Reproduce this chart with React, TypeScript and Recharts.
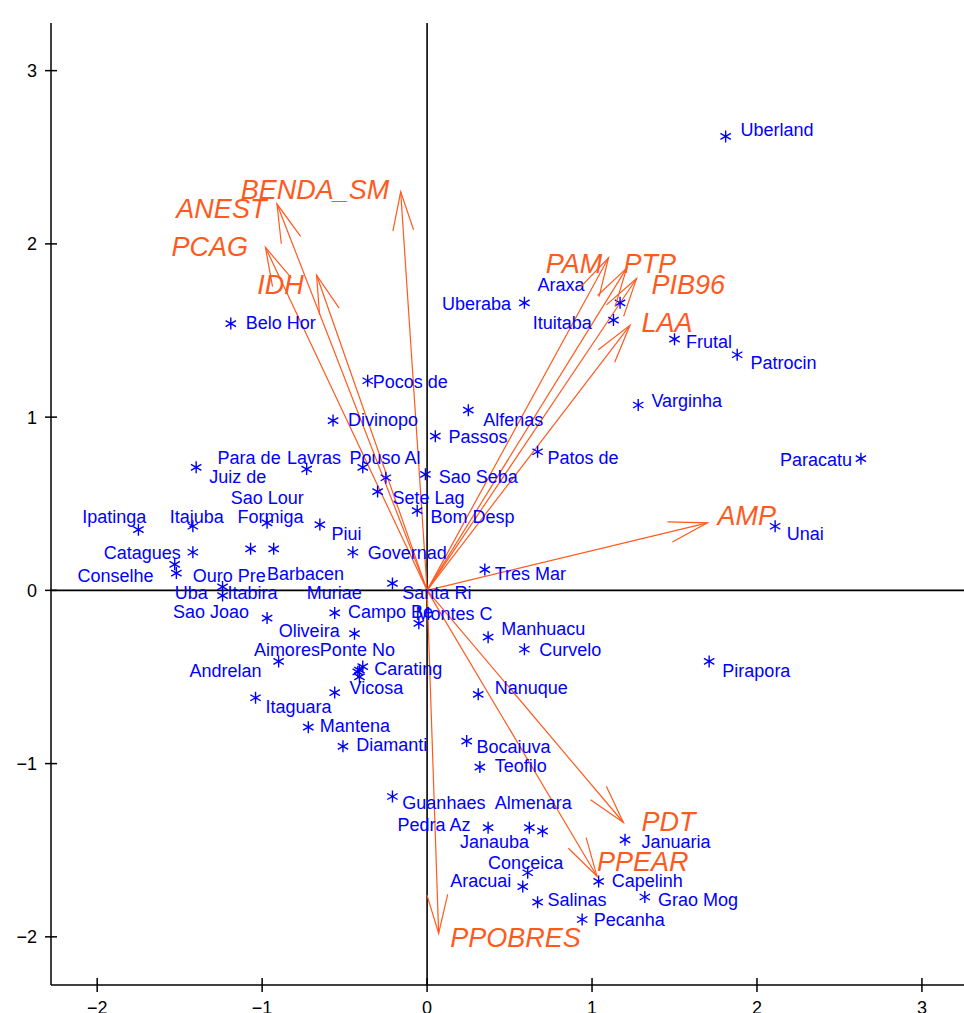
import React from 'react';
import { ComposedChart, XAxis, YAxis, Scatter, Line, ReferenceLine } from 'recharts';

const X_DOMAIN: [number, number] = [-2.28, 3.255];
const Y_DOMAIN: [number, number] = [-2.278, 3.275];
const xTicks = [-2, -1, 0, 1, 2, 3];
const yTicks = [-2, -1, 0, 1, 2, 3];

const cityNames = [
  'Uberland', 'Belo Hor', 'Uberaba', 'Araxa', 'Ituitaba', 'Frutal', 'Patrocin', 'Varginha', 'Paracatu', 'Unai',
  'Pirapora', 'Patos de', 'Alfenas', 'Passos', 'Sao Seba', 'Pocos de', 'Divinopo', 'Sete Lag', 'Bom Desp', 'Tres Mar',
  'Governad', 'Piui', 'Para de', 'Juiz de', 'Lavras', 'Pouso Al', 'Sao Lour', 'Ipatinga', 'Itajuba', 'Formiga',
  'Catagues', 'Conselhe', 'Ouro Pre', 'Barbacen', 'Uba', 'Itabira', 'Muriae', 'Santa Ri', 'Sao Joao', 'Campo Be',
  'Montes C', 'Oliveira', 'Aimores', 'Ponte No', 'Andrelan', 'Carating', 'Vicosa', 'Itaguara', 'Mantena', 'Diamanti',
  'Manhuacu', 'Curvelo', 'Nanuque', 'Bocaiuva', 'Teofilo', 'Guanhaes', 'Almenara', 'Pedra Az', 'Janauba', 'Januaria',
  'Conceica', 'Aracuai', 'Capelinh', 'Grao Mog', 'Salinas', 'Pecanha',
];
const cityX = [
  1.81, -1.19, 0.59, 1.17, 1.13, 1.50, 1.88, 1.28, 2.63, 2.11,
  1.71, 0.67, 0.25, 0.05, -0.01, -0.36, -0.57, -0.30, -0.06, 0.35,
  -0.45, -0.65, -0.25, -1.40, -0.73, -0.39, -1.07, -1.75, -1.42, -0.97,
  -1.42, -1.52, -0.93, -1.53, -1.24, -1.24, -0.42, -0.21, -0.97, -0.56,
  -0.05, -0.44, -0.90, -0.41, -0.41, -0.39, -0.56, -1.04, -0.72, -0.51,
  0.37, 0.59, 0.31, 0.24, 0.32, -0.21, 0.62, 0.37, 0.70, 1.20,
  0.61, 0.58, 1.04, 1.32, 0.67, 0.94,
];
const cityY = [
  2.62, 1.54, 1.66, 1.66, 1.56, 1.45, 1.36, 1.07, 0.76, 0.37,
  -0.41, 0.80, 1.04, 0.89, 0.67, 1.21, 0.98, 0.57, 0.46, 0.12,
  0.22, 0.38, 0.65, 0.71, 0.70, 0.71, 0.24, 0.35, 0.37, 0.39,
  0.22, 0.10, 0.24, 0.15, 0.02, -0.03, -0.47, 0.04, -0.16, -0.13,
  -0.19, -0.25, -0.41, -0.50, -0.46, -0.44, -0.59, -0.62, -0.79, -0.90,
  -0.27, -0.34, -0.60, -0.87, -1.02, -1.19, -1.37, -1.37, -1.39, -1.44,
  -1.63, -1.71, -1.68, -1.77, -1.80, -1.90,
];
const labelX = [
  1.90, -1.10, 0.09, 0.67, 0.64, 1.57, 1.96, 1.36, 2.14, 2.18,
  1.79, 0.73, 0.34, 0.13, 0.07, -0.33, -0.48, -0.21, 0.02, 0.41,
  -0.36, -0.58, -1.27, -1.32, -0.85, -0.47, -1.19, -2.09, -1.56, -1.15,
  -1.96, -2.12, -1.42, -0.97, -1.53, -1.21, -0.73, -0.15, -1.54, -0.48,
  -0.07, -0.90, -1.05, -0.65, -1.44, -0.32, -0.47, -0.98, -0.65, -0.43,
  0.45, 0.68, 0.41, 0.30, 0.41, -0.15, 0.41, -0.18, 0.20, 1.30,
  0.37, 0.14, 1.12, 1.40, 0.73, 1.01,
];
const labelY = [
  2.62, 1.51, 1.62, 1.73, 1.51, 1.40, 1.28, 1.06, 0.72, 0.29,
  -0.50, 0.73, 0.95, 0.85, 0.62, 1.17, 0.95, 0.50, 0.39, 0.06,
  0.18, 0.29, 0.73, 0.62, 0.73, 0.73, 0.50, 0.39, 0.39, 0.39,
  0.18, 0.05, 0.05, 0.06, -0.05, -0.05, -0.05, -0.05, -0.16, -0.16,
  -0.17, -0.27, -0.38, -0.38, -0.50, -0.49, -0.60, -0.71, -0.82, -0.93,
  -0.26, -0.38, -0.60, -0.94, -1.05, -1.26, -1.26, -1.39, -1.49, -1.49,
  -1.61, -1.71, -1.71, -1.82, -1.82, -1.94,
];

const varNames = ['BENDA_SM', 'ANEST', 'PCAG', 'IDH', 'PAM', 'PTP', 'PIB96', 'LAA', 'AMP', 'PDT', 'PPEAR', 'PPOBRES'];
const varX = [-0.16, -0.91, -0.98, -0.67, 1.10, 1.21, 1.27, 1.23, 1.70, 1.19, 1.03, 0.07];
const varY = [2.30, 2.23, 1.98, 1.82, 1.92, 1.86, 1.80, 1.53, 0.39, -1.34, -1.65, -1.98];
const varLabelX = [-1.13, -1.52, -1.55, -1.03, 0.72, 1.19, 1.36, 1.30, 1.76, 1.30, 1.03, 0.14];
const varLabelY = [2.26, 2.15, 1.93, 1.71, 1.83, 1.83, 1.71, 1.49, 0.38, -1.39, -1.62, -2.06];

const BLUE = '#0000ff';
const ORANGE = '#ff5a1e';
const FONT = "'Liberation Sans', Arial, Helvetica, sans-serif";

const cityPoints = cityNames.map((n, i) => ({ name: n, x: cityX[i], y: cityY[i] }));
const cityLabels = cityNames.map((n, i) => ({ name: n, x: labelX[i], y: labelY[i] }));
const varLabels = varNames.map((n, i) => ({ name: n, x: varLabelX[i], y: varLabelY[i] }));
const arrows = varNames.map((n, i) => ({ name: n, data: [{ x: 0, y: 0 }, { x: varX[i], y: varY[i] }] }));

const fmt = (v: number) => (v < 0 ? `\u2212${Math.abs(v)}` : `${v}`);

const LeftTick = (p: any) => (
  <g>
    <line x1={p.x - 6} x2={p.x + 6} y1={p.y} y2={p.y} stroke="#000" strokeWidth={1.5} />
    <text x={p.x - 14} y={p.y + 6.5} textAnchor="end" fontSize={18} fontFamily={FONT} fill="#000">
      {fmt(p.payload.value)}
    </text>
  </g>
);
const RightTick = (p: any) => (
  <line x1={p.x - 6} x2={p.x + 6} y1={p.y} y2={p.y} stroke="#000" strokeWidth={1.5} />
);
const BottomTick = (p: any) => (
  <g>
    <line x1={p.x} x2={p.x} y1={p.y - 7} y2={p.y + 7} stroke="#000" strokeWidth={1.5} />
    <text x={p.x} y={p.y + 29} textAnchor="middle" fontSize={18} fontFamily={FONT} fill="#000">
      {fmt(p.payload.value)}
    </text>
  </g>
);
const TopTick = (p: any) => (
  <line x1={p.x} x2={p.x} y1={p.y - 8} y2={p.y + 7} stroke="#000" strokeWidth={1.5} />
);

const Asterisk = (p: any) => {
  const { cx, cy } = p;
  if (cx == null || cy == null) return <g />;
  const r = 6;
  const dx = r * Math.cos(Math.PI / 6);
  const dy = r * Math.sin(Math.PI / 6);
  return (
    <path
      d={`M${cx},${cy - r}L${cx},${cy + r}M${cx - dx},${cy - dy}L${cx + dx},${cy + dy}M${cx - dx},${cy + dy}L${cx + dx},${cy - dy}`}
      stroke={BLUE}
      strokeWidth={1.4}
      fill="none"
    />
  );
};

const CityText = (p: any) => {
  if (p.cx == null) return <g />;
  return (
    <text x={p.cx} y={p.cy} fontSize={18} fontFamily={FONT} fill={BLUE}>
      {p.payload.name}
    </text>
  );
};

const VarText = (p: any) => {
  if (p.cx == null) return <g />;
  return (
    <text x={p.cx} y={p.cy} fontSize={27} fontStyle="italic" fontFamily={FONT} fill={ORANGE}>
      {p.payload.name}
    </text>
  );
};

function makeArrowDot(id: string) {
  let origin: { x: number; y: number } | null = null;
  return (p: any) => {
    if (p.index === 0) {
      origin = { x: p.cx, y: p.cy };
      return <g key={`o-${id}`} />;
    }
    const pts = p.points;
    const o = pts && pts[0] && pts[0].x != null ? { x: pts[0].x, y: pts[0].y } : origin;
    if (!o || p.cx == null) return <g key={`t-${id}`} />;
    const dx = o.x - p.cx;
    const dy = o.y - p.cy;
    const len = Math.hypot(dx, dy) || 1;
    const ux = dx / len;
    const uy = dy / len;
    const L = 40;
    const a = (15 * Math.PI) / 180;
    const c = Math.cos(a);
    const s = Math.sin(a);
    const b1x = p.cx + L * (ux * c - uy * s);
    const b1y = p.cy + L * (ux * s + uy * c);
    const b2x = p.cx + L * (ux * c + uy * s);
    const b2y = p.cy + L * (-ux * s + uy * c);
    return (
      <path
        key={`t-${id}`}
        d={`M${b1x},${b1y}L${p.cx},${p.cy}L${b2x},${b2y}`}
        stroke={ORANGE}
        strokeWidth={1.2}
        fill="none"
      />
    );
  };
}

export default function App() {
  return (
    <div style={{ position: 'absolute', left: 0, top: 0, width: 964, height: 1013, overflow: 'hidden', background: '#fff' }}>
      <ComposedChart width={964} height={1013} margin={{ top: 23, right: 0, bottom: 0, left: 0 }}>
        <XAxis
          type="number"
          dataKey="x"
          domain={X_DOMAIN}
          ticks={xTicks}
          allowDataOverflow
          interval={0}
          height={28}
          orientation="bottom"
          axisLine={{ stroke: '#000', strokeWidth: 1.5 }}
          tickLine={false}
          tickSize={0}
          tickMargin={0}
          tick={(p: any) => <BottomTick {...p} />}
        />
        <XAxis
          xAxisId="top"
          type="number"
          dataKey="x"
          domain={X_DOMAIN}
          ticks={xTicks}
          allowDataOverflow
          interval={0}
          height={0}
          orientation="top"
          axisLine={{ stroke: '#000', strokeWidth: 1.5 }}
          tickLine={false}
          tickSize={0}
          tickMargin={0}
          tick={(p: any) => <TopTick {...p} />}
        />
        <YAxis
          type="number"
          dataKey="y"
          domain={Y_DOMAIN}
          ticks={yTicks}
          allowDataOverflow
          interval={0}
          width={51}
          orientation="left"
          axisLine={{ stroke: '#000', strokeWidth: 1.5 }}
          tickLine={false}
          tickSize={0}
          tickMargin={0}
          tick={(p: any) => <LeftTick {...p} />}
        />
        <YAxis
          yAxisId="right"
          type="number"
          dataKey="y"
          domain={Y_DOMAIN}
          ticks={yTicks}
          allowDataOverflow
          interval={0}
          width={0}
          orientation="right"
          axisLine={false}
          tickLine={false}
          tickSize={0}
          tickMargin={0}
          tick={(p: any) => <RightTick {...p} />}
        />
        <ReferenceLine x={0} stroke="#000" strokeWidth={1.6} />
        <ReferenceLine y={0} stroke="#000" strokeWidth={1.6} />
        <Scatter data={cityPoints} dataKey="y" isAnimationActive={false} shape={(p: any) => <Asterisk {...p} />} />
        <Scatter data={cityLabels} dataKey="y" isAnimationActive={false} shape={(p: any) => <CityText {...p} />} />
        {arrows.map((a) => (
          <Line
            key={a.name}
            data={a.data}
            dataKey="y"
            type="linear"
            stroke={ORANGE}
            strokeWidth={1.2}
            isAnimationActive={false}
            dot={makeArrowDot(a.name)}
            activeDot={false}
          />
        ))}
        <Scatter data={varLabels} dataKey="y" isAnimationActive={false} shape={(p: any) => <VarText {...p} />} />
      </ComposedChart>
    </div>
  );
}
